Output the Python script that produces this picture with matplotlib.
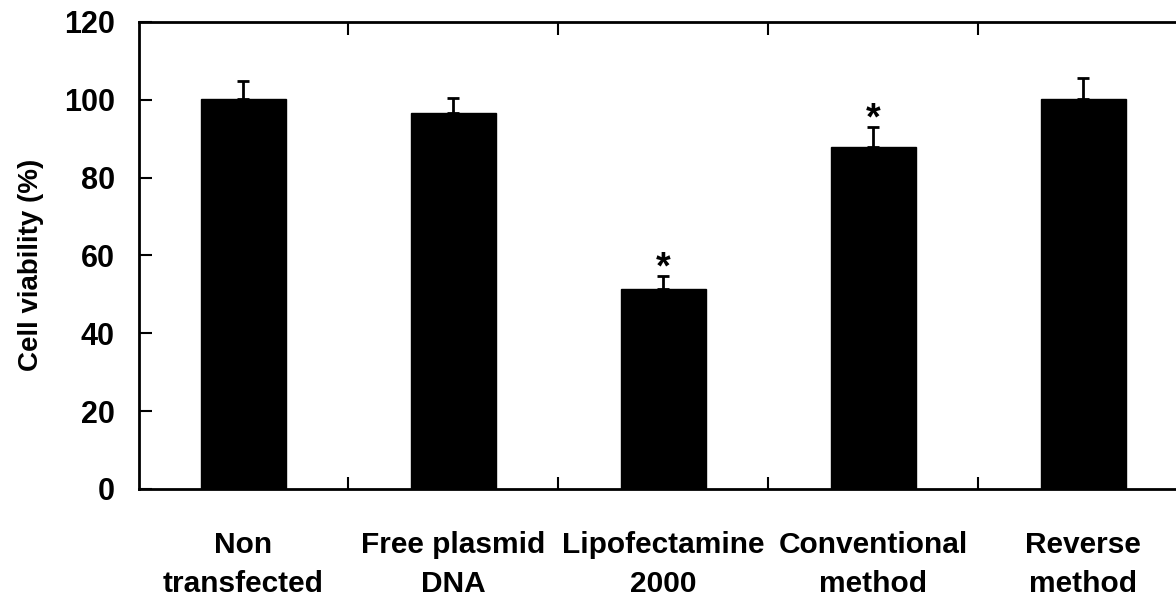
import matplotlib
matplotlib.use("Agg")
import matplotlib.pyplot as plt

# groups on the x axis and their mean viability with upper error
groups = ["Non\ntransfected", "Free plasmid\nDNA", "Lipofectamine\n2000",
          "Conventional\nmethod", "Reverse\nmethod"]
viability = [100.3, 96.5, 51.3, 87.9, 100.3]
sd = [4.4, 4.0, 3.5, 5.0, 5.2]
significant = [False, False, True, True, False]

plt.rcParams['font.family'] = ['Liberation Sans', 'DejaVu Sans']
plt.rcParams['font.weight'] = 'bold'

fig = plt.figure(figsize=(11.76, 5.98), dpi=100)
# right spine sits just past the picture edge, as in the original
ax = fig.add_axes([0.1178, 0.1823, 0.8924, 0.781])

x = list(range(len(groups)))
ax.bar(x, viability, width=0.405, color='black', edgecolor='black', zorder=2)
ax.errorbar(x, viability, yerr=[[0] * len(sd), sd], fmt='none', ecolor='black',
            elinewidth=2, capsize=4.5, capthick=2, zorder=3)

# stars above the bars that differ from control
for xi, v, e, sig in zip(x, viability, sd, significant):
    if sig:
        ax.text(xi, v + e - 2.7, "*", ha='center', va='bottom',
                fontsize=27, fontweight='bold')

ax.set_xlim(-0.5, len(groups) - 0.5)
ax.set_ylim(0, 120)
ax.set_yticks(range(0, 121, 20))
ax.set_xticks([i + 0.5 for i in x[:-1]])
ax.set_xticklabels([])
ax.set_xticks(x, minor=True)
ax.set_xticklabels(groups, minor=True, fontsize=21.5, fontweight='bold',
                   linespacing=1.5)

ax.tick_params(axis='both', which='major', direction='in', length=9, width=1.5,
               top=True, right=True)
ax.tick_params(axis='y', labelsize=22, pad=17)
ax.tick_params(axis='x', which='minor', length=0, pad=30.5)
for lab in ax.get_yticklabels():
    lab.set_fontweight('bold')

for s in ax.spines.values():
    s.set_linewidth(2)

ax.set_ylabel("Cell viability (%)", fontsize=20, fontweight='bold')
ax.yaxis.set_label_coords(-0.09, 0.479)

fig.savefig("out.png", dpi=100)
